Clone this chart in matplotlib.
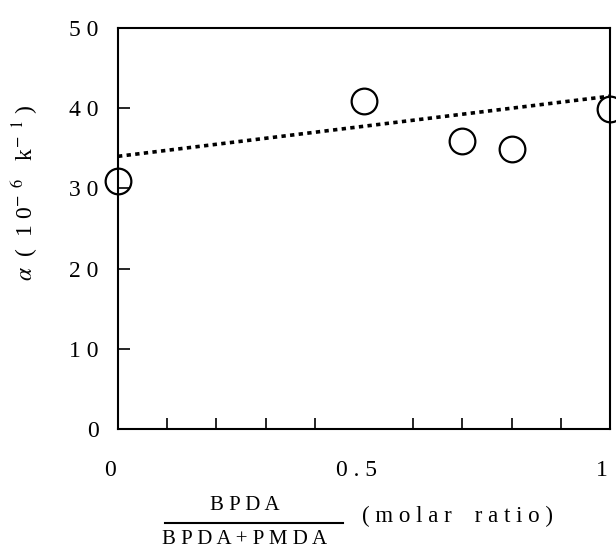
import matplotlib.pyplot as plt
import matplotlib.transforms as mtransforms

# measured points
ratio = [0.0, 0.5, 0.7, 0.8, 1.0]
alpha_val = [30.9, 40.9, 35.9, 34.9, 39.9]

# dotted trend line end points
fit_x = [0.0, 1.0]
fit_y = [34.0, 41.5]

xtick_pos = [0, 0.5, 1]
xtick_lab = ['0', '0 . 5', '1']
ytick_pos = [0, 10, 20, 30, 40, 50]
ytick_lab = ['0', '1 0', '2 0', '3 0', '4 0', '5 0']

plt.rcParams['font.family'] = ['Liberation Serif', 'DejaVu Serif']
plt.rcParams['mathtext.fontset'] = 'stix'

fig = plt.figure(figsize=(6.16, 5.52), dpi=100)
ax = fig.add_axes([118/616, 1-429/552, 492/616, 401/552])

ax.plot(fit_x, fit_y, color='black', lw=2.6, linestyle=(0, (1.2, 1.2)),
        dash_capstyle='butt')
ax.plot(ratio, alpha_val, 'o', ms=18.5, mfc='none', mec='black', mew=1.6,
        clip_on=False)

ax.set_xlim(0, 1)
ax.set_ylim(0, 50)

for s in ax.spines.values():
    s.set_linewidth(1.5)

ax.set_xticks(xtick_pos)
ax.set_xticklabels(xtick_lab, fontsize=17)
ax.set_xticks([i/10 for i in range(1, 10)], minor=True)
ax.tick_params(axis='x', which='major', length=0, pad=22)
ax.tick_params(axis='x', which='minor', direction='in', length=8, width=1.2)

ax.set_yticks(ytick_pos)
ax.set_yticklabels(ytick_lab, fontsize=17)
ax.tick_params(axis='y', direction='in', length=8.5, width=1.2, pad=14)

off = mtransforms.ScaledTranslation(-8/100, 0, fig.dpi_scale_trans)
for lbl in ax.get_xticklabels():
    lbl.set_transform(lbl.get_transform() + off)

# y label
fig.text(25/616, 1-193/552, r'$\alpha$  (  1 0$^{-\ \ 6}$   k$^{-\ \ 1}$ )',
         rotation=90, ha='center', va='center', fontsize=17)

# x label as a fraction
fig.text(245/616, 1-505/552, 'B P D A', ha='center', va='center', fontsize=15)
fig.text(245/616, 1-540/552, 'B P D A + P M D A', ha='center', va='center',
         fontsize=15)
fig.add_artist(plt.Line2D([165/616, 343/616], [1-523/552, 1-523/552],
                          color='black', lw=1.5))
fig.text(362/616, 1-516/552, '( m o l a r    r a t i o )', ha='left',
         va='center', fontsize=16.5)

fig.savefig('out.png', dpi=100)
